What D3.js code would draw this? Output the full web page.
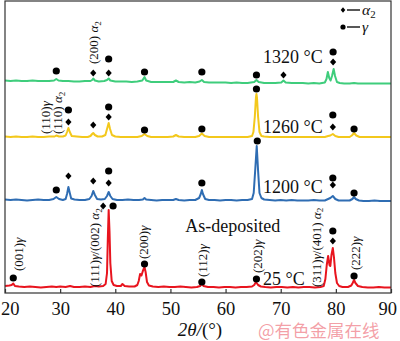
<!DOCTYPE html>
<html>
<head>
<meta charset="utf-8">
<script src="https://cdn.jsdelivr.net/npm/d3@7/dist/d3.min.js"></script>
<style>
html,body{margin:0;padding:0;background:#fff;}
svg{display:block;}
</style>
</head>
<body>
<svg id="chart" width="400" height="341"></svg>
<script>
// ---------- DATA ----------
const xTicks = [20, 30, 40, 50, 60, 70, 80, 90];
const seriesNames = ["As-deposited 25 °C", "1200 °C", "1260 °C", "1320 °C"];
const seriesColors = ["#e8141e", "#2f6db3", "#f3c81c", "#3fcd7c"];

// [2θ, intensity (a.u., stacked)]
const pts25 = [[20,7],[20.8,7.5],[21.2,8],[21.5,9.5],[21.8,7],[22.5,6.5],[23.5,6],[24.5,6.5],[25.5,6],[26.5,5.5],[27.5,6],[28.5,6.5],[29.3,6],[30,6.5],[31,6],[31.8,7],[32.5,6],[33.5,6],[34.5,6.5],[35.5,6],[36.3,7],[37,6.5],[37.8,7],[38.25,9],[38.5,20],[38.65,55],[38.8,83],[38.95,62],[39.1,30],[39.35,12],[39.7,8],[40.3,7],[41,7],[41.3,9],[41.7,7],[42.5,6.5],[43.5,6.5],[44.0,8],[44.25,12],[44.5,19],[44.75,17.5],[45.0,22],[45.3,26],[45.5,21],[45.75,11],[46.1,7.5],[46.8,6.5],[47.8,6],[48.8,6.5],[49.8,6],[50.8,6],[51.8,6.5],[52.8,6],[53.8,5.5],[54.8,6],[55.4,7],[55.7,10],[56,7],[56.8,6],[57.8,6],[58.8,5.5],[59.8,6],[60.8,6],[61.8,5.5],[62.8,6],[63.8,6],[64.8,6.5],[65.2,8],[65.5,11],[65.9,8],[66.4,6.5],[67.2,6],[68.2,5.5],[69.2,6],[70.2,6],[71.2,5.5],[72.2,6],[73.2,5.5],[74.2,6],[75.2,6],[76.2,5.5],[77.2,6],[77.8,7],[78.1,14],[78.35,28],[78.6,37],[78.85,28],[79.0,27],[79.2,38],[79.45,45],[79.65,36],[79.9,20],[80.2,10],[80.6,7],[81.2,6],[82.2,6],[82.8,7.5],[83.05,10],[83.3,13],[83.55,10],[84,7],[84.8,6],[85.8,5.5],[86.8,5.5],[87.8,6],[88.8,5.5],[90,5.5]];

const pts1200 = [[20,93.5],[21,93],[22,93.5],[23,93],[24,92.5],[25,93],[26,93.5],[27,93],[28,93],[28.8,94],[29.3,96],[29.8,94],[30.5,93],[31.0,94],[31.25,99],[31.5,106],[31.75,100],[32.0,94.5],[32.6,93.5],[33.5,93],[34.5,93],[35.3,94],[35.7,97],[36.0,102],[36.3,98],[36.7,94],[37.4,93.5],[38.1,94],[38.5,97],[38.8,101],[39.1,97],[39.5,94],[40.3,93],[41.3,93],[42.3,93.5],[43.3,93],[44.3,93],[45.0,93.5],[45.3,95],[45.6,93.5],[46.5,93],[47.5,92.5],[48.5,93],[49.5,93],[50.5,93],[51,94],[51.5,93],[52.5,92.5],[53.5,93],[54.5,93],[55.2,95],[55.5,99],[55.7,103],[55.9,99],[56.3,94],[57,93],[58,93],[59,92.5],[60,93],[61,93],[62,92.5],[63,93],[64,93],[64.8,94],[65.1,100],[65.4,125],[65.65,147],[65.9,122],[66.15,100],[66.5,95],[67,93.5],[68,93],[69,92.5],[70,93],[71,92.5],[72,93],[73,92.5],[74,92.5],[75,92.5],[76,93],[77,92.5],[78,92.5],[78.6,94],[79.0,95],[79.45,97],[79.9,94],[80.5,92.5],[81.5,92.5],[82.5,92.5],[83.0,94],[83.3,96],[83.6,94],[84.2,92.5],[85,92],[86,92],[87,92.5],[88,92],[89,92],[90,92]];

const pts1260 = [[20,156.5],[21,156],[22,156.5],[23,156],[24,156],[25,156.5],[26,156],[27,156],[28,156.5],[29,156.5],[29.3,157.5],[29.8,156.5],[30.5,156.5],[31,157.5],[31.25,161],[31.5,165],[31.75,161],[32.1,157],[33,156.5],[34,156],[35,156],[35.5,157],[35.8,159],[36.0,160],[36.3,158],[36.8,156.5],[37.6,156.5],[38.2,158],[38.5,164],[38.8,170],[39.05,164],[39.4,158],[40,156.5],[41,156],[42,156],[43,156],[44,156],[44.8,157],[45.3,159],[45.8,157],[46.5,156],[47.5,156],[48.5,156],[49.5,156],[50.5,156.5],[51,158],[51.5,156.5],[52.5,156],[53.5,156],[54.5,156],[55.2,157],[55.7,159.5],[56.2,157],[57,156],[58,156],[59,156],[60,156],[61,156],[62,156],[63,156],[64,156],[64.8,157],[65.05,161],[65.3,176],[65.5,195],[65.6,199],[65.7,195],[65.9,176],[66.15,161],[66.5,157],[67,156.5],[68,156],[69,156],[70,156],[71,156],[72,156],[73,156],[74,156],[75,156],[76,156],[77,156],[78,156],[78.6,157],[79.0,157.5],[79.45,159],[79.9,157],[80.5,156],[81.5,156],[82.5,156],[82.9,157.5],[83.3,160],[83.7,157.5],[84.3,156],[85,156],[86,156],[87,156],[88,156],[89,156],[90,156]];

const pts1320 = [[20,212.5],[21,212],[22,212.5],[23,212],[24,212],[25,212.5],[26,212],[27,212],[28,212],[28.9,212.5],[29.3,214],[29.7,212.5],[30.5,212],[31.5,212],[32.5,211.5],[33.5,211.5],[34.5,212],[35.5,212],[35.8,213],[36.0,214.5],[36.3,212.5],[37,211.5],[38,212],[38.5,213],[38.8,214.5],[39.1,212.5],[40,211.5],[41,211.5],[42,211.5],[43,211],[44,211.5],[44.9,212.5],[45.3,216],[45.6,212.5],[46.5,211],[47.5,211],[48.5,211],[49.5,211],[50.5,211],[51,212.5],[51.5,211],[52.5,210.5],[53.5,211],[54.5,210.5],[55.3,211.5],[55.7,213],[56.1,211],[57,210.5],[58,210.5],[59,210.5],[60,210.5],[61,210],[62,210.5],[63,210],[64,210],[65.2,211],[65.6,213],[66,211],[67,210],[68,210],[69,210],[70.1,210.5],[70.5,212.5],[70.9,210.5],[72,210],[73,210],[74,210],[75,209.5],[76,210],[77,209.5],[78.0,210.5],[78.3,214],[78.55,221],[78.8,215],[79.05,212.5],[79.3,217],[79.6,224],[79.85,217],[80.2,211],[80.7,210],[81.5,209.5],[82.5,209.5],[83.3,210],[84,209.5],[85,209.5],[86,209.5],[87,209.5],[88,209.5],[89,209.5],[90,209.5]];

const seriesPoints = [pts25, pts1200, pts1260, pts1320];

// phase marks: [2θ, intensity level]
const gammaMarks = [
  [29.3,222],[38.8,234],[45.3,221],[55.7,221],[65.6,218],[79.5,241],
  [31.5,183],[38.8,186],[45.3,163],[55.7,164],[65.6,204],[79.45,178],[83.3,164],
  [29.3,103],[38.8,122],[55.7,110],[65.75,152],[79.45,115],[83.3,100],
  [21.5,15],[39.6,87],[45.3,29],[55.7,11],[65.6,14],[79.45,62],[83.3,17]
];
const alphaMarks = [
  [36.0,220],[38.8,220],[70.5,218],[79.5,231],
  [31.5,171],[36.0,168],[38.8,176],[79.45,166],
  [31.5,117],[36.0,112],[38.8,110],[79.45,108],
  [37.8,87],[79.45,52]
];

// peak index labels: [2θ, intensity level at text start, text]
const peakLabels = [
  [22.5, 22, "(001)γ"],
  [36.2, 6, "(111)γ/(002) α2"],
  [45.1, 34, "(200)γ"],
  [55.8, 16, "(112)γ"],
  [65.8, 20, "(202)γ"],
  [76.4, 6, "(311)γ/(401) α2"],
  [83.5, 23, "(222)γ"],
  [36.0, 229, "(200) α2"],
  [27.3, 159, "(110)γ"],
  [29.6, 159, "(110) α2"]
];
// condition labels: [2θ, intensity level of baseline, text]
const condLabels = [
  [66.8, 230, "1320 °C"],
  [66.8, 160, "1260 °C"],
  [66.8, 100, "1200 °C"],
  [66.8, 8, "25 °C"],
  [52.7, 61, "As-deposited"]
];
const legendItems = [["diamond", "α2"], ["circle", "γ"]];
const xLabel = ["2θ/", "(°)"];
const watermark = "@有色金属在线";

// ---------- DRAW ----------
const W = 400, H = 341;
const serif = "'Times New Roman','Liberation Serif','DejaVu Serif',serif";
const svg = d3.select("#chart");
const x = d3.scaleLinear().domain([20, 90]).range([5, 391]);
const y = d3.scaleLinear().domain([0, 292]).range([293, 1]);

function rich(textSel, str) {
  const chars = Array.from(str);
  let buf = "";
  const flush = () => { if (buf) { textSel.append("tspan").text(buf); buf = ""; } };
  for (let i = 0; i < chars.length; i++) {
    const c = chars[i];
    if (c === "α" || c === "γ" || c === "θ") {
      flush();
      textSel.append("tspan").attr("font-style", "italic").text(c);
      if (c === "α" && chars[i + 1] === "2") {
        textSel.append("tspan").attr("font-size", "0.7em").attr("dy", "0.3em").text("2");
        i++;
        if (i < chars.length - 1) textSel.append("tspan").attr("dy", "-0.3em").text("");
      }
    } else buf += c;
  }
  flush();
}

function diamondPath(hw, hh) {
  const p = d3.path();
  p.moveTo(0, -hh); p.lineTo(hw, 0); p.lineTo(0, hh); p.lineTo(-hw, 0); p.closePath();
  return p.toString();
}

// series lines
const line = d3.line().x(d => x(d[0])).y(d => y(d[1])).curve(d3.curveLinear);
const plot = svg.append("g");
seriesPoints.forEach((pts, i) => {
  plot.append("path").datum(pts)
    .attr("d", line)
    .attr("fill", "none")
    .attr("stroke", seriesColors[i])
    .attr("stroke-width", 2)
    .attr("stroke-linejoin", "round");
});

// frame
svg.append("rect").attr("x", x(20)).attr("y", y(292)).attr("width", x(90) - x(20)).attr("height", y(0) - y(292))
  .attr("fill", "none").attr("stroke", "#333").attr("stroke-width", 1.2);

// x axis
const xAxis = d3.axisBottom(x).tickValues(xTicks).tickSize(-4).tickFormat(d3.format("d"));
const gx = svg.append("g").attr("transform", `translate(0,${y(0)})`).call(xAxis);
gx.select(".domain").remove();
gx.selectAll(".tick line").attr("stroke", "#333").attr("stroke-width", 1.2);
gx.selectAll(".tick text").attr("font-family", serif).attr("font-size", 18.5).attr("fill", "#111")
  .attr("y", 21.5).attr("dy", 0);
gx.selectAll(".tick text").each(function () {
  const b = this.getBBox();
  const tx = d3.select(this.parentNode).attr("transform");
  const m = /translate\(([-\d.]+)/.exec(tx);
  const cx = m ? +m[1] : 0;
  const left = cx + b.x, right = cx + b.x + b.width;
  if (left < 1) d3.select(this).attr("x", 1 - left);
  if (right > W - 3) d3.select(this).attr("x", (W - 3) - right);
});

// x label
const xl = svg.append("text").attr("x", 200).attr("y", 336).attr("text-anchor", "middle")
  .attr("font-family", serif).attr("font-size", 19).attr("fill", "#111");
xl.append("tspan").attr("font-style", "italic").text(xLabel[0]);
xl.append("tspan").text(xLabel[1]);

// markers
svg.append("g").selectAll("circle").data(gammaMarks).join("circle")
  .attr("cx", d => x(d[0])).attr("cy", d => y(d[1])).attr("r", 3.6).attr("fill", "#000");
svg.append("g").selectAll("path").data(alphaMarks).join("path")
  .attr("d", diamondPath(3.1, 3.6)).attr("transform", d => `translate(${x(d[0])},${y(d[1])})`)
  .attr("fill", "#000");

// peak labels (rotated)
const fsPeak = 13;
peakLabels.forEach(d => {
  const t = svg.append("text")
    .attr("transform", `translate(${x(d[0])},${y(d[1])}) rotate(-90)`)
    .attr("y", fsPeak * 0.35)
    .attr("font-family", serif).attr("font-size", fsPeak).attr("fill", "#111");
  rich(t, d[2]);
});

// condition labels
condLabels.forEach(d => {
  svg.append("text").attr("x", x(d[0])).attr("y", y(d[1]))
    .attr("font-family", serif).attr("font-size", 18).attr("fill", "#111").text(d[2]);
});

// legend
const lg = svg.append("g");
legendItems.forEach((it, i) => {
  const ly = 10 + i * 17;
  if (it[0] === "diamond") {
    lg.append("path").attr("d", diamondPath(2.3, 2.8))
      .attr("transform", `translate(343,${ly})`).attr("fill", "#000");
  } else {
    lg.append("circle").attr("cx", 343).attr("cy", ly).attr("r", 2.6).attr("fill", "#000");
  }
  lg.append("line").attr("x1", 347).attr("x2", 360).attr("y1", ly).attr("y2", ly)
    .attr("stroke", "#111").attr("stroke-width", 1.4);
  const t = lg.append("text").attr("x", 362).attr("y", ly + 4.5)
    .attr("font-family", serif).attr("font-size", 15.5).attr("fill", "#111");
  rich(t, it[1]);
});

// watermark
svg.append("text").attr("x", 258).attr("y", 337)
  .attr("font-family", "'Noto Sans CJK SC','Noto Sans',sans-serif").attr("font-size", 17.5)
  .attr("fill", "rgba(236,96,108,0.6)").text(watermark);
</script>
</body>
</html>
